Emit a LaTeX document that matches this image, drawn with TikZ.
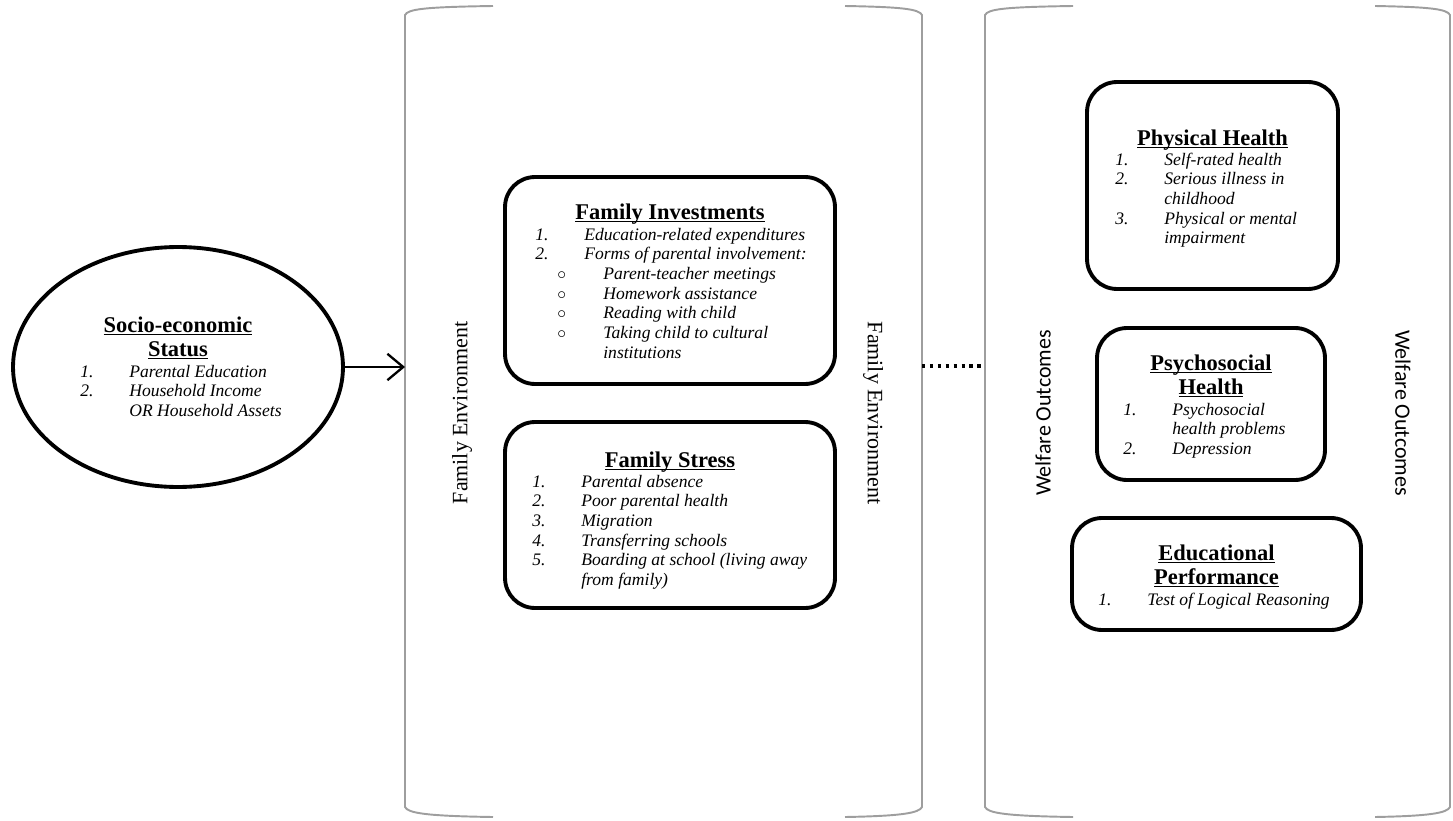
\documentclass[tikz,border=0pt]{standalone}
\usepackage{fontspec}
\setmainfont{Liberation Serif}
\newfontfamily\wofont{Carlito}
\usetikzlibrary{shapes.geometric,arrows.meta,positioning}
\definecolor{brk}{gray}{0.62}
\tikzset{
  box/.style={draw,line width=2.2pt,rounded corners=0.6cm,inner sep=0pt},
  head/.style={anchor=base,inner sep=0pt,font=\fontsize{12.8}{13.7}\selectfont\bfseries},
  lst/.style={anchor=base west,inner sep=0pt,font=\fontsize{10}{11.2}\selectfont\itshape},
  side/.style={inner sep=0pt,font=\fontsize{12.5}{15}\selectfont},
  bracket/.style={draw=brk,line width=1.1pt},
}
\newcommand{\hd}[1]{\begin{tabular}[t]{@{}c@{}}#1\end{tabular}}
\newcommand{\ul}[1]{\underline{\smash{#1}}}
\newcommand{\ls}[1]{\begin{tabular}[t]{@{}l@{}}#1\end{tabular}}
\newcommand{\numit}[2]{\makebox[0.98cm][l]{#1}#2}
\newcommand{\bul}[1]{\hspace*{0.44cm}\makebox[0.92cm][l]{$\circ$}#1}
\begin{document}
\begin{tikzpicture}[x=0.02cm,y=-0.02cm]
\useasboundingbox (0,0) rectangle (1453,821);
\foreach \x/\s/\w in {405/1/88,922/-1/77,985/1/88,1450/-1/75} % edit here for the brackets
\draw[bracket] ({\x+\w*(\s)},6) .. controls ({\x+20*(\s)},7) and ({\x+3*(\s)},9) .. (\x,15)
  -- (\x,807) .. controls ({\x+3*(\s)},813) and ({\x+20*(\s)},816) .. ({\x+\w*(\s)},817);
\node[side,rotate=90] (fe1) at (462,413) {Family Environment};
\node[side,rotate=-90] (fe2) at (873,413) {Family Environment};
\node[side,rotate=90] (wo1) at (1043,413) {\wofont Welfare Outcomes};
\node[side,rotate=-90] (wo2) at (1403,413) {\wofont Welfare Outcomes};
% socio-economic status
\node[ellipse,draw,line width=2.2pt,minimum width=6.6cm,minimum height=4.8cm] (ses) at (178,367) {};
\node[head] (seshd) at (178,332) {\hd{\ul{Socio-economic}\\\ul{Status}}};
\node[lst] (seslst) at (80,377) {\ls{\numit{1.}{Parental Education}\\\numit{2.}{Household Income}\\\hspace*{0.98cm}OR Household Assets}};
\coordinate (fel) at (405,367);
\draw[-{Straight Barb[length=9pt,width=15pt]},line width=1.3pt] (ses.east) -- (fel);
% family environment
\node[box,minimum width=6.6cm,minimum height=4.14cm] (fi) at (670,280.5) {};
\node[head] (fihd) at (670,219) {\hd{\ul{Family Investments}}};
\node[lst] (filst) at (535,240) {\ls{\numit{1.}{Education-related expenditures}\\\numit{2.}{Forms of parental involvement:}\\
  \bul{Parent-teacher meetings}\\\bul{Homework assistance}\\\bul{Reading with child}\\\bul{Taking child to cultural}\\\hspace*{1.36cm}institutions}};
\node[box,minimum width=6.6cm,minimum height=3.72cm] (fs) at (670,515) {};
\node[head] (fshd) at (670,467) {\hd{\ul{Family Stress}}};
\node[lst] (fslst) at (532,487) {\ls{\numit{1.}{Parental absence}\\\numit{2.}{Poor parental health}\\\numit{3.}{Migration}\\\numit{4.}{Transferring schools}\\
  \numit{5.}{Boarding at school (living away}\\\hspace*{0.98cm}from family)}};
\coordinate (fer) at (922,366);
\coordinate (wol) at (985,366);
\draw[line width=1.8pt,dash pattern=on 1.8pt off 2.7pt] (fer) -- (wol);
% welfare outcomes
\node[box,minimum width=5.02cm,minimum height=4.14cm] (ph) at (1212.5,185.5) {};
\node[head] (phhd) at (1212.5,145) {\hd{\ul{Physical Health}}};
\node[lst] (phlst) at (1115,165) {\ls{\numit{1.}{Self-rated health}\\\numit{2.}{Serious illness in}\\\hspace*{0.98cm}childhood\\\numit{3.}{Physical or mental}\\\hspace*{0.98cm}impairment}};
\node[box,minimum width=4.56cm,minimum height=3.04cm] (ps) at (1211,404) {};
\node[head] (pshd) at (1211,370) {\hd{\ul{Psychosocial}\\\ul{Health}}};
\node[lst] (pslst) at (1123,415) {\ls{\numit{1.}{Psychosocial}\\\hspace*{0.98cm}health problems\\\numit{2.}{Depression}}};
\node[box,minimum width=5.78cm,minimum height=2.24cm] (ep) at (1216.5,574) {};
\node[head] (ephd) at (1216.5,560) {\hd{\ul{Educational}\\\ul{Performance}}};
\node[lst] (eplst) at (1098,605) {\ls{\numit{1.}{Test of Logical Reasoning}}};
\end{tikzpicture}
\end{document}
